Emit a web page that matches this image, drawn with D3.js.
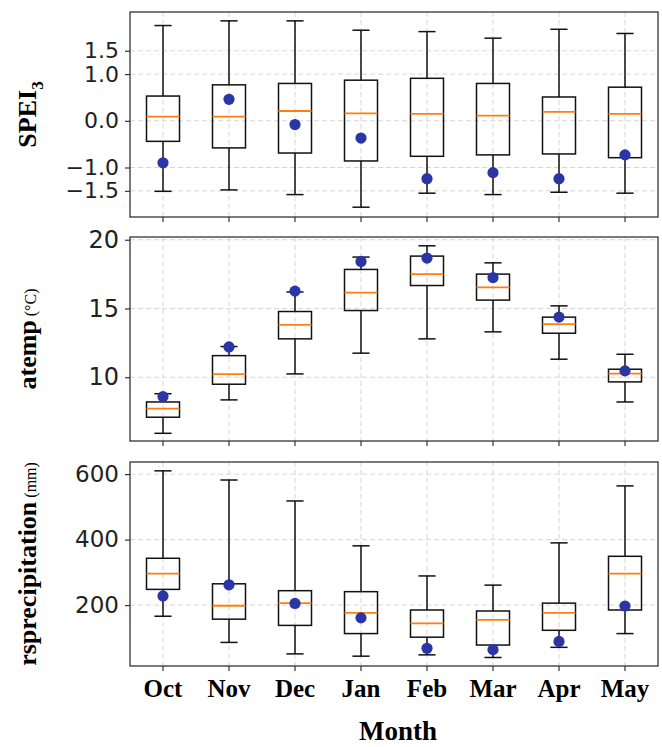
<!DOCTYPE html>
<html>
<head>
<meta charset="utf-8">
<script src="https://cdn.jsdelivr.net/npm/d3@7"></script>
<style>
  body { margin: 0; background: #fff; }
  svg { display: block; }
</style>
</head>
<body>
<script>
const months = ["Oct", "Nov", "Dec", "Jan", "Feb", "Mar", "Apr", "May"];

// SPEI3 boxes
const speiLow    = [-1.51, -1.48, -1.58, -1.85, -1.55, -1.58, -1.53, -1.55];
const speiQ1     = [-0.44, -0.58, -0.69, -0.86, -0.76, -0.73, -0.71, -0.79];
const speiMed    = [0.09, 0.09, 0.21, 0.16, 0.15, 0.11, 0.19, 0.15];
const speiQ3     = [0.53, 0.77, 0.80, 0.87, 0.91, 0.80, 0.51, 0.72];
const speiHigh   = [2.04, 2.14, 2.14, 1.94, 1.91, 1.77, 1.96, 1.87];
const speiDot    = [-0.90, 0.46, -0.08, -0.37, -1.24, -1.11, -1.24, -0.73];
const speiTicks  = [-1.5, -1.0, 0.0, 1.0, 1.5];

// atemp boxes
const atempLow   = [5.92, 8.35, 10.24, 11.75, 12.79, 13.30, 11.31, 8.20];
const atempQ1    = [7.09, 9.49, 12.79, 14.85, 16.67, 15.61, 13.20, 9.66];
const atempMed   = [7.71, 10.22, 13.81, 16.16, 17.50, 16.53, 13.86, 10.26];
const atempQ3    = [8.20, 11.57, 14.78, 17.84, 18.81, 17.50, 14.37, 10.58];
const atempHigh  = [8.80, 12.23, 16.20, 18.74, 19.56, 18.32, 15.19, 11.67];
const atempDot   = [8.59, 12.20, 16.26, 18.42, 18.67, 17.25, 14.37, 10.46];
const atempTicks = [10, 15, 20];

// rsprecipitation boxes
const precLow    = [166, 86, 51, 44, 48, 40, 71, 113];
const precQ1     = [248, 157, 138, 113, 102, 78, 123, 185];
const precMed    = [296, 198, 206, 176, 144, 155, 176, 296];
const precQ3     = [343, 265, 244, 241, 185, 182, 206, 349];
const precHigh   = [610, 582, 518, 381, 289, 261, 390, 564];
const precDot    = [228, 262, 205, 161, 68, 64, 89, 197];
const precTicks  = [200, 400, 600];

const svg = d3.select("body").append("svg")
    .attr("width", 662)
    .attr("height", 747);

const left = 130, right = 658;
const x = d3.scaleBand().domain(months).range([left, right]);
const bw = x.bandwidth();
const cx = m => x(m) + bw / 2;

const panels = [
    {top: 12, bottom: 217, domain: [-2.06, 2.33], ticks: speiTicks, fmt: d3.format(".1f"), tickFont: 22,
     low: speiLow, q1: speiQ1, med: speiMed, q3: speiQ3, high: speiHigh, dot: speiDot,
     label: [["SPEI", "main"], ["3", "sub"]]},
    {top: 237, bottom: 441, domain: [5.36, 20.2], ticks: atempTicks, fmt: d3.format("d"), tickFont: 24,
     low: atempLow, q1: atempQ1, med: atempMed, q3: atempQ3, high: atempHigh, dot: atempDot,
     label: [["atemp", "main"], [" (\u00B0C)", "unit"]]},
    {top: 462, bottom: 666, domain: [14, 637], ticks: precTicks, fmt: d3.format("d"), tickFont: 23,
     low: precLow, q1: precQ1, med: precMed, q3: precQ3, high: precHigh, dot: precDot,
     label: [["rsprecipitation", "main"], [" (mm)", "unit"]]}
];

panels.forEach((p, pi) => {
    const y = d3.scaleLinear().domain(p.domain).range([p.bottom, p.top]);
    const g = svg.append("g");

    // grid
    g.selectAll(".hgrid").data(p.ticks).join("line")
        .attr("x1", left).attr("x2", right)
        .attr("y1", d => y(d)).attr("y2", d => y(d))
        .attr("stroke", "#d6d6d6").attr("stroke-width", 1).attr("stroke-dasharray", "5,3");
    g.selectAll(".vgrid").data(months).join("line")
        .attr("x1", d => cx(d)).attr("x2", d => cx(d))
        .attr("y1", p.top).attr("y2", p.bottom)
        .attr("stroke", "#d6d6d6").attr("stroke-width", 1).attr("stroke-dasharray", "5,3");

    // y axis
    const ya = g.append("g")
        .attr("transform", `translate(${left},0)`)
        .call(d3.axisLeft(y).tickValues(p.ticks).tickFormat(p.fmt).tickSize(5).tickPadding(6));
    ya.select(".domain").remove();
    ya.selectAll("line").attr("stroke", "#333").attr("stroke-width", 1.2);
    ya.selectAll("text")
        .attr("font-family", "DejaVu Sans").attr("font-size", p.tickFont).attr("fill", "#222");

    // x axis
    const xa = g.append("g")
        .attr("transform", `translate(0,${p.bottom})`)
        .call(d3.axisBottom(x).tickSize(5).tickPadding(8));
    xa.select(".domain").remove();
    xa.selectAll("line").attr("stroke", "#333").attr("stroke-width", 1.2);
    if (pi < 2) {
        xa.selectAll("text").remove();
    } else {
        xa.selectAll("text")
            .attr("font-family", "Liberation Serif").attr("font-weight", "bold")
            .attr("font-size", 25).attr("fill", "#000");
    }

    // boxes
    const boxes = g.selectAll(".box").data(months).join("g");
    boxes.append("line")
        .attr("x1", d => cx(d)).attr("x2", d => cx(d))
        .attr("y1", (d, i) => y(p.low[i])).attr("y2", (d, i) => y(p.q1[i]))
        .attr("stroke", "#111").attr("stroke-width", 1.5);
    boxes.append("line")
        .attr("x1", d => cx(d)).attr("x2", d => cx(d))
        .attr("y1", (d, i) => y(p.q3[i])).attr("y2", (d, i) => y(p.high[i]))
        .attr("stroke", "#111").attr("stroke-width", 1.5);
    boxes.append("line")
        .attr("x1", d => cx(d) - bw * 0.13).attr("x2", d => cx(d) + bw * 0.13)
        .attr("y1", (d, i) => y(p.low[i])).attr("y2", (d, i) => y(p.low[i]))
        .attr("stroke", "#111").attr("stroke-width", 1.5);
    boxes.append("line")
        .attr("x1", d => cx(d) - bw * 0.13).attr("x2", d => cx(d) + bw * 0.13)
        .attr("y1", (d, i) => y(p.high[i])).attr("y2", (d, i) => y(p.high[i]))
        .attr("stroke", "#111").attr("stroke-width", 1.5);
    boxes.append("rect")
        .attr("x", d => cx(d) - bw / 4).attr("width", bw / 2)
        .attr("y", (d, i) => y(p.q3[i]))
        .attr("height", (d, i) => y(p.q1[i]) - y(p.q3[i]))
        .attr("fill", "none").attr("stroke", "#111").attr("stroke-width", 1.5);
    boxes.append("line")
        .attr("x1", d => cx(d) - bw / 4).attr("x2", d => cx(d) + bw / 4)
        .attr("y1", (d, i) => y(p.med[i])).attr("y2", (d, i) => y(p.med[i]))
        .attr("stroke", "#ff7f0e").attr("stroke-width", 1.8);
    boxes.append("circle")
        .attr("cx", d => cx(d)).attr("cy", (d, i) => y(p.dot[i]))
        .attr("r", 5.6).attr("fill", "#2a36a6");

    // frame
    g.append("rect")
        .attr("x", left).attr("y", p.top)
        .attr("width", right - left).attr("height", p.bottom - p.top)
        .attr("fill", "none").attr("stroke", "#333").attr("stroke-width", 1.3);

    // y label
    const lab = svg.append("text")
        .attr("transform", `translate(36,${(p.top + p.bottom) / 2}) rotate(-90)`)
        .attr("text-anchor", "middle")
        .attr("font-family", "Liberation Serif").attr("fill", "#000");
    p.label.forEach(([t, kind]) => {
        const ts = lab.append("tspan").text(t);
        if (kind === "main") ts.attr("font-size", 26).attr("font-weight", "bold");
        if (kind === "sub") ts.attr("font-size", 17).attr("font-weight", "bold").attr("dy", 7);
        if (kind === "unit") ts.attr("font-size", 16);
    });
});

svg.append("text")
    .attr("x", 398).attr("y", 740)
    .attr("text-anchor", "middle")
    .attr("font-family", "Liberation Serif").attr("font-weight", "bold")
    .attr("font-size", 27)
    .text("Month");
</script>
</body>
</html>
